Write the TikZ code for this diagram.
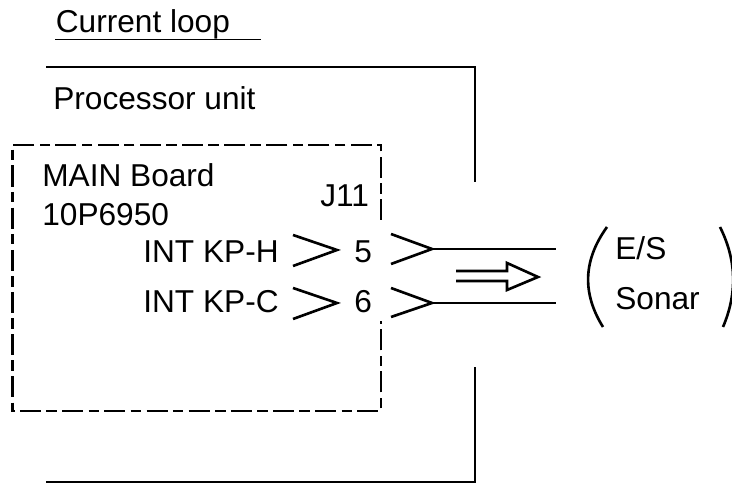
\documentclass[tikz,border=0pt]{standalone}
\usepackage{fontspec}
\setmainfont{Liberation Sans}
\usepackage{tikz}
\usetikzlibrary{positioning, calc}

\begin{document}
\begin{tikzpicture}[
        lbl/.style={inner sep=0pt, anchor=base west, font=\fontsize{18pt}{20pt}\selectfont},
        wire/.style={line width=1.5pt},
        frame/.style={line width=1.5pt},
        brdline/.style={line width=1.5pt, dash pattern=on 12pt off 3pt on 6pt off 3pt}
    ]
    \useasboundingbox (0,0) rectangle (14.64,9.68);

    % Title
    \node[lbl] (title) at (1.11,9.02) {Current loop};
    \coordinate (ulA) at (1.10,8.89);
    \coordinate (ulB) at (5.22,8.89);
    \draw[line width=0.9pt] (ulA) -- (ulB);

    % Processor unit
    \coordinate (topA) at (0.92,8.34);
    \coordinate (topB) at (9.50,8.34);
    \coordinate (topC) at (9.50,6.04);
    \coordinate (botA) at (0.92,0.04);
    \coordinate (botB) at (9.50,0.04);
    \coordinate (botC) at (9.50,2.34);
    \draw[frame] (topA) -- (topB) -- (topC);
    \draw[frame] (botA) -- (botB) -- (botC);
    \node[lbl] (proc) at (1.06,7.48) {Processor unit};

    % Main board
    \coordinate (brdA) at (7.62,5.28);
    \coordinate (brdB) at (7.62,6.78);
    \coordinate (brdC) at (0.25,6.78);
    \coordinate (brdD) at (0.25,1.46);
    \coordinate (brdE) at (7.62,1.46);
    \coordinate (brdF) at (7.62,3.26);
    \draw[brdline] (brdA) -- (brdB) -- (brdC) -- (brdD) -- (brdE) -- (brdF);
    \node[lbl] (main) at (0.84,5.94) {MAIN Board};
    \node[lbl] (part) at (0.84,5.16) {10P6950};
    \node[lbl] (jack) at (6.40,5.54) {J11};

    % Pins
    \node[lbl] (kph) at (2.86,4.42) {INT KP-H};
    \node[lbl] (kpc) at (2.86,3.42) {INT KP-C};
    \node[lbl] (five) at (7.08,4.42) {5};
    \node[lbl] (six) at (7.08,3.42) {6};

    \coordinate (hA) at (5.86,4.98);
    \coordinate (hB) at (6.74,4.68);
    \coordinate (hC) at (5.86,4.36);
    \coordinate (cA) at (5.86,3.92);
    \coordinate (cB) at (6.74,3.62);
    \coordinate (cC) at (5.86,3.30);
    \draw[wire] (hA) -- (hB) -- (hC);
    \draw[wire] (cA) -- (cB) -- (cC);

    % Wires
    \coordinate (plugA) at (7.82,5.00);
    \coordinate (plugB) at (8.64,4.70);
    \coordinate (plugC) at (7.82,4.40);
    \coordinate (plugD) at (7.82,3.92);
    \coordinate (plugE) at (8.64,3.62);
    \coordinate (plugF) at (7.82,3.34);
    \coordinate (endH) at (11.12,4.71);
    \coordinate (endC) at (11.12,3.63);
    \draw[wire] (plugA) -- (plugB) -- (plugC);
    \draw[wire] (plugD) -- (plugE) -- (plugF);
    \draw[wire] (plugB) -- (plugB -| endH);
    \draw[wire] (plugE) -- (plugE -| endC);

    % Flow arrow
    \coordinate (flowA) at (9.12,4.26);
    \coordinate (flowB) at (10.14,4.26);
    \coordinate (flowC) at (10.14,4.42);
    \coordinate (flowD) at (10.76,4.14);
    \coordinate (flowE) at (10.14,3.88);
    \coordinate (flowF) at (10.14,4.06);
    \coordinate (flowG) at (9.12,4.06);
    \draw[wire] (flowA) -- (flowB) -- (flowC) -- (flowD) -- (flowE) -- (flowF) -- (flowG);

    % Sonar
    \node[lbl] (es) at (12.30,4.48) {E/S};
    \node[lbl] (sonar) at (12.30,3.48) {Sonar};
    \coordinate (brkA) at (12.14,5.14);
    \coordinate (brkB) at (12.06,3.14);
    \coordinate (brkC) at (14.40,5.14);
    \coordinate (brkD) at (14.46,3.14);
    \draw[wire] (brkA) .. controls (11.65,4.46) and (11.65,3.80) .. (brkB);
    \draw[wire] (brkC) .. controls (14.74,4.46) and (14.74,3.80) .. (brkD);

\end{tikzpicture}
\end{document}
